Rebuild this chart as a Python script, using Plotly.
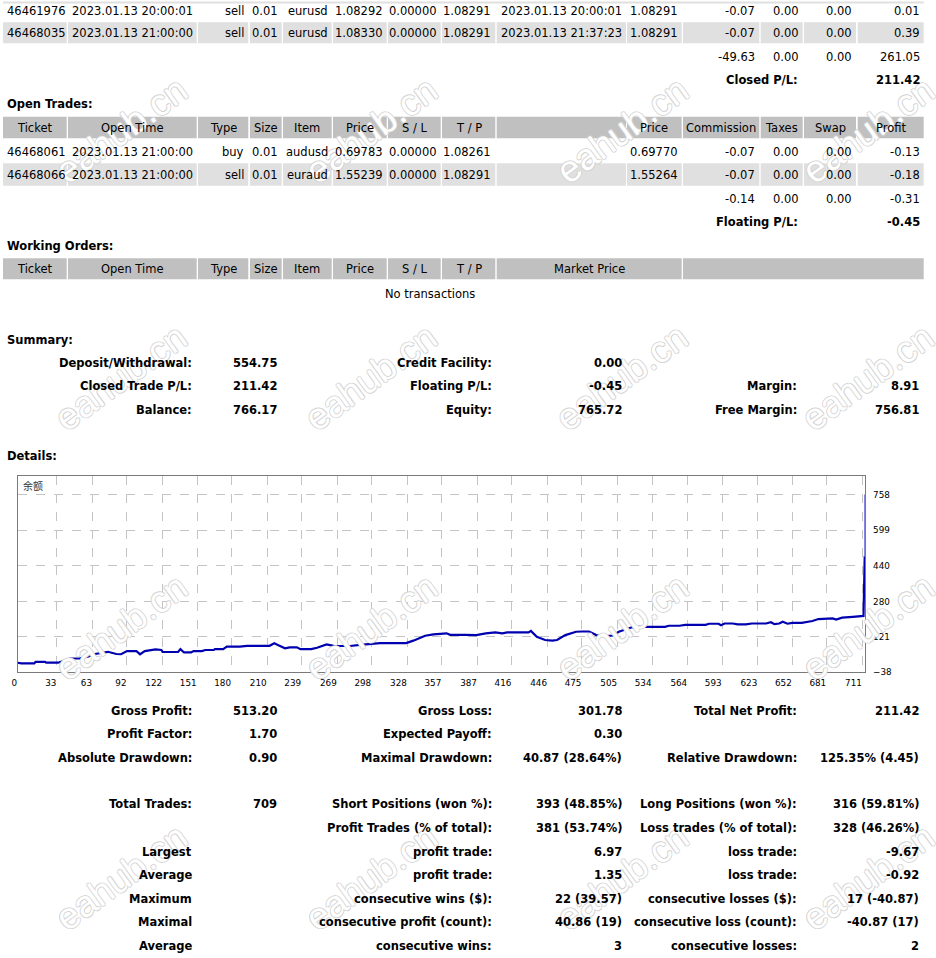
import plotly.graph_objects as go

W, H = 936, 958
FONT = "DejaVu Sans"

# ---- table data ----
closed_rows = [
    ["46461976", "2023.01.13 20:00:01", "sell", "0.01", "eurusd", "1.08292", "0.00000", "1.08291",
     "2023.01.13 20:00:01", "1.08291", "-0.07", "0.00", "0.00", "0.01"],
    ["46468035", "2023.01.13 21:00:00", "sell", "0.01", "eurusd", "1.08330", "0.00000", "1.08291",
     "2023.01.13 21:37:23", "1.08291", "-0.07", "0.00", "0.00", "0.39"],
]
closed_totals = ["-49.63", "0.00", "0.00", "261.05"]
closed_pl = "211.42"

open_header = ["Ticket", "Open Time", "Type", "Size", "Item", "Price", "S / L", "T / P", "",
               "Price", "Commission", "Taxes", "Swap", "Profit"]
open_rows = [
    ["46468061", "2023.01.13 21:00:00", "buy", "0.01", "audusd", "0.69783", "0.00000", "1.08261", "",
     "0.69770", "-0.07", "0.00", "0.00", "-0.13"],
    ["46468066", "2023.01.13 21:00:00", "sell", "0.01", "euraud", "1.55239", "0.00000", "1.08291", "",
     "1.55264", "-0.07", "0.00", "0.00", "-0.18"],
]
open_totals = ["-0.14", "0.00", "0.00", "-0.31"]
floating_pl = "-0.45"

working_header = ["Ticket", "Open Time", "Type", "Size", "Item", "Price", "S / L", "T / P", "Market Price", ""]
no_rows_text = "No transactions"

summary_rows = [
    ["Deposit/Withdrawal:", "554.75", "Credit Facility:", "0.00", "", ""],
    ["Closed Trade P/L:", "211.42", "Floating P/L:", "-0.45", "Margin:", "8.91"],
    ["Balance:", "766.17", "Equity:", "765.72", "Free Margin:", "756.81"],
]

details_rows = [
    ["Gross Profit:", "513.20", "Gross Loss:", "301.78", "Total Net Profit:", "211.42"],
    ["Profit Factor:", "1.70", "Expected Payoff:", "0.30", "", ""],
    ["Absolute Drawdown:", "0.90", "Maximal Drawdown:", "40.87 (28.64%)", "Relative Drawdown:", "125.35% (4.45)"],
    ["Total Trades:", "709", "Short Positions (won %):", "393 (48.85%)", "Long Positions (won %):", "316 (59.81%)"],
    ["", "", "Profit Trades (% of total):", "381 (53.74%)", "Loss trades (% of total):", "328 (46.26%)"],
    ["Largest", "", "profit trade:", "6.97", "loss trade:", "-9.67"],
    ["Average", "", "profit trade:", "1.35", "loss trade:", "-0.92"],
    ["Maximum", "", "consecutive wins ($):", "22 (39.57)", "consecutive losses ($):", "17 (-40.87)"],
    ["Maximal", "", "consecutive profit (count):", "40.86 (19)", "consecutive loss (count):", "-40.87 (17)"],
    ["Average", "", "consecutive wins:", "3", "consecutive losses:", "2"],
]

# ---- balance chart data ----
bal_x = [0, 3, 14, 15, 23, 24, 34, 38, 41, 44, 52, 59, 65, 76, 83, 87, 92, 100, 103, 107,
         116, 121, 122, 135, 137, 140, 146, 148, 155, 158, 165, 166, 173, 176, 187, 193, 212,
         216, 219, 225, 229, 235, 238, 247, 252, 260, 266, 280, 288, 299, 305, 327, 333, 343,
         350, 361, 364, 377, 386, 394, 402, 408, 412, 430, 432, 437, 444, 450, 454, 461, 470,
         475, 481, 487, 495, 501, 506, 517, 523, 545, 548, 557, 562, 579, 582, 590, 592, 595,
         602, 606, 613, 618, 630, 634, 637, 641, 644, 648, 652, 660, 669, 674, 683, 686, 689,
         694, 703, 712, 713]
bal_y = [5, 2, 2, 9, 9, 5, 5, 12, 20, 24, 24, 32, 44, 54, 44, 43, 57, 57, 43, 57,
         65, 62, 53, 53, 66, 51, 51, 57, 57, 62, 62, 66, 66, 77, 77, 81, 81,
         92, 85, 70, 74, 74, 66, 66, 72, 87, 81, 80, 85, 89, 93, 93, 104, 126,
         132, 137, 130, 130, 129, 137, 141, 137, 141, 141, 148, 121, 107, 104, 107, 129, 144,
         145, 145, 129, 124, 127, 144, 164, 166, 166, 171, 171, 175, 175, 180, 180, 173, 181,
         181, 177, 177, 181, 181, 187, 178, 181, 189, 180, 184, 184, 192, 201, 204, 204, 199,
         207, 211, 215, 483]
end_x = [713, 713]
end_y = [483, 758]

x_ticks = [0, 33, 63, 92, 122, 151, 180, 210, 239, 269, 298, 328, 357, 387, 416, 446, 475,
           505, 534, 564, 593, 623, 652, 681, 711]
y_ticks = [-38, 121, 280, 440, 599, 758]
chart_label = "余额"
watermark = "eahub.cn"


def px(x):
    return x / W


def py(y):
    return 1 - y / H


shapes = []
annotations = []


def rect(x0, x1, y0, y1, color):
    shapes.append(dict(type="rect", xref="paper", yref="paper", x0=px(x0), x1=px(x1),
                       y0=py(y1), y1=py(y0), fillcolor=color, line_width=0, layer="below"))


def text(x, y, s, anchor="left", bold=False, size=11.5, color="#000000", family=FONT):
    if not s:
        return
    annotations.append(dict(xref="paper", yref="paper", x=px(x), y=py(y),
                            text="<b>%s</b>" % s if bold else s, xanchor=anchor, yanchor="middle",
                            showarrow=False, borderpad=0,
                            font=dict(family=family, size=size, color=color)))


# watermarks first so everything else sits on top
for wy in [130, 378, 627, 877]:
    for wx in [121, 371, 622, 868]:
        annotations.append(dict(xref="paper", yref="paper", x=px(wx), y=py(wy), text=watermark,
                                textangle=-36, showarrow=False, xanchor="center", yanchor="middle",
                                font=dict(family="Liberation Sans", size=37, color="#ffffff",
                                          shadow="1px 0 0 #d4d4d4, -1px 0 0 #d4d4d4, 0 1px 0 #d4d4d4, 0 -1px 0 #d4d4d4")))

cols = [(3, 66.7), (68, 196.7), (198, 248.3), (250, 281.7), (283, 331.7), (333, 386.7),
        (388, 440.7), (442, 495.3), (496.7, 626), (627, 681.7), (683, 759.3), (760.7, 802.7),
        (804, 856), (857.7, 923.7)]
aligns = ["left", "left", "right", "right", "right", "right", "right", "right", "left",
          "right", "right", "right", "right", "right"]
work_cols = cols[:8] + [(496.7, 681.7), (683, 923.7)]
HEAD = "#c0c0c0"
ROW = "#e0e0e0"


def cells(values, yc, y0, y1, bg, cset, al=None, header=False):
    for i, ((c0, c1), v) in enumerate(zip(cset, values)):
        if bg:
            rect(c0, c1, y0, y1, bg)
        if header:
            text((c0 + c1) / 2, yc, v, "center")
        elif al[i] == "left":
            text(c0 + 3, yc, v, "left")
        else:
            text(c1 - 3, yc, v, "right")


def totals(values, yc):
    for (c0, c1), v in zip(cols[10:], values):
        text(c1 - 3, yc, v, "right")


# closed trades (cut off at the top)
rect(3, 923.7, 1.5, 3.5, ROW)
cells(closed_rows[0], 10.5, 4, 21, None, cols, aligns)
cells(closed_rows[1], 33, 22.3, 43.3, ROW, cols, aligns)
totals(closed_totals, 57.3)
text(799, 80, "Closed P/L:", "right", True)
text(920.7, 80, closed_pl, "right", True)

# open trades
text(6, 104.3, "Open Trades:", "left", True)
cells(open_header, 128, 116.7, 138.3, HEAD, cols, header=True)
cells(open_rows[0], 151.7, 139.7, 162, None, cols, aligns)
cells(open_rows[1], 175.3, 163.3, 185.7, ROW, cols, aligns)
totals(open_totals, 198.7)
text(799, 222, "Floating P/L:", "right", True)
text(920.7, 222, floating_pl, "right", True)

# working orders
text(6, 245.7, "Working Orders:", "left", True)
cells(working_header, 269, 258.3, 279.3, HEAD, work_cols, header=True)
text(430, 294, no_rows_text, "center")

# summary / details blocks
ends = [192.7, 278.3, 492.7, 622.7, 798.3, 920.3]
text(6, 339.7, "Summary:", "left", True)
for row, yc in zip(summary_rows, [362.7, 386.3, 410.3]):
    for v, xe in zip(row, ends):
        text(xe, yc, v, "right", True)

text(6, 456, "Details:", "left", True)
detail_y = [710.7, 734.3, 757.7, 803.7, 827.7, 851.7, 874.7, 898.7, 921.7, 946]
for row, yc in zip(details_rows, detail_y):
    for v, xe in zip(row, ends):
        text(xe, yc, v, "right", True)

text(21.5, 485.7, chart_label, "left", size=10, color="#333333", family="Noto Sans CJK SC")

fig = go.Figure()
fig.add_trace(go.Scatter(x=bal_x, y=bal_y, mode="lines", line=dict(color="#0000b0", width=2.2),
                         hoverinfo="skip", showlegend=False))
fig.add_trace(go.Scatter(x=end_x, y=end_y, mode="lines", line=dict(color="#7878e0", width=1.2),
                         hoverinfo="skip", showlegend=False))

axis_font = dict(family=FONT, size=8.8, color="#000000")
fig.update_layout(
    width=W, height=H,
    margin=dict(l=0, r=0, t=0, b=0, pad=0, autoexpand=False),
    paper_bgcolor="#ffffff", plot_bgcolor="#ffffff",
    hovermode=False,
    xaxis=dict(domain=[px(17.7), px(865.3)], range=[0, 713.5], tickvals=x_ticks,
               showgrid=True, gridcolor="#c4c4c4", griddash="dash", gridwidth=1,
               showline=True, mirror=True, linecolor="#7a7a7a", linewidth=1, zeroline=False,
               ticks="", tickfont=axis_font, ticklabelposition="outside left",
               ticklabelstandoff=2, automargin=False, fixedrange=True),
    yaxis=dict(domain=[py(672.3), py(476)], range=[-38, 843], tickvals=y_ticks, side="right",
               showgrid=True, gridcolor="#c4c4c4", griddash="dash", gridwidth=1,
               showline=True, mirror=True, linecolor="#7a7a7a", linewidth=1, zeroline=False,
               ticks="", tickfont=axis_font, ticklabelstandoff=5, automargin=False, fixedrange=True),
    shapes=shapes,
    annotations=annotations,
    font=dict(family=FONT),
)

# the page has an 8px body margin by default; drop it so the figure sits at 0,0
fig.write_html("out.html", config={"displayModeBar": False},
               post_script="document.body.style.margin = '0';")
